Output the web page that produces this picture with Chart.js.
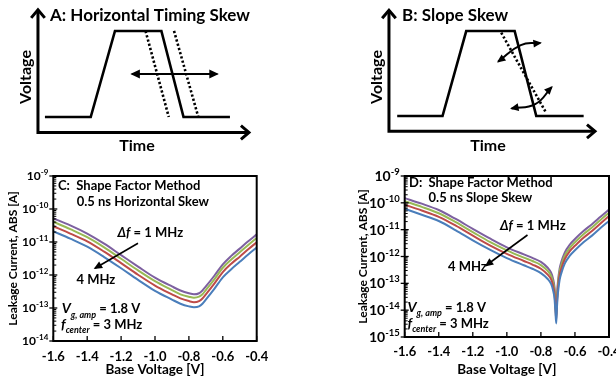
<!DOCTYPE html>
<html><head><meta charset="utf-8">
<script src="https://cdn.jsdelivr.net/npm/chart.js@4.4.1/dist/chart.umd.min.js"></script>
<style>
html,body{margin:0;padding:0;background:#fff;overflow:hidden;width:616px;height:382px;position:relative;}
canvas{position:absolute;display:block;}
</style></head><body>
<canvas id="cA" width="308" height="160" style="left:0;top:0;width:308px;height:160px"></canvas>
<canvas id="cB" width="308" height="160" style="left:308px;top:0;width:308px;height:160px"></canvas>
<canvas id="cC" width="308" height="222" style="left:0;top:160px;width:308px;height:222px"></canvas>
<canvas id="cD" width="330" height="222" style="left:308px;top:160px;width:330px;height:222px"></canvas>
<script>
// ---------- schematic panels A and B (time / voltage in arbitrary units) ----------
const axisTime = [0, 10];
const axisLevel = [-0.18, 1.245];
const pulseLevel = [0, 0, 1, 1, 0, 0];
const pulseTimeA = [0.33, 2.5, 3.65, 5.85, 6.9, 9.1];
const edgeLevel = [1, 0];
const earlyEdgeTimeA = [5.1, 6.2];
const lateEdgeTimeA = [6.45, 7.6];
const shiftArrowTimeA = [4.45, 8.5];
const shiftArrowLevelA = [0.5, 0.5];
const pulseTimeB = [0.4, 2.6, 3.75, 6.1, 7.15, 9.45];
const skewEdgeTimeB = [5.45, 7.6];
const skewEdgeLevelB = [0.98, 0.05];
const upperArcTimeB = [5.3, 6.4, 7.35];
const upperArcLevelB = [0.64, 0.835, 0.86];
const lowerArcTimeB = [5.95, 7.1, 7.9];
const lowerArcLevelB = [0.09, 0.14, 0.34];

// ---------- panel C: horizontal skew ----------
const baseVoltageC = [-1.6,-1.5,-1.4,-1.3,-1.2,-1.1,-1.0,-0.9,-0.85,-0.8,-0.77,-0.74,-0.72,-0.7,-0.65,-0.6,-0.55,-0.5,-0.45,-0.4];
const leakC_1MHz = [5.2e-11,3.2e-11,1.8e-11,8.9e-12,4.0e-12,1.8e-12,8.3e-13,4.5e-13,3.4e-13,2.8e-13,2.6e-13,2.8e-13,3.4e-13,4.5e-13,9.5e-13,2.1e-12,3.8e-12,6.3e-12,1.05e-11,1.7e-11];
const leakC_2MHz = [4.1e-11,2.45e-11,1.4e-11,6.9e-12,3.1e-12,1.38e-12,6.5e-13,3.5e-13,2.6e-13,2.2e-13,2.05e-13,2.2e-13,2.6e-13,3.5e-13,7.4e-13,1.66e-12,2.95e-12,4.9e-12,8.1e-12,1.32e-11];
const leakC_3MHz = [3.0e-11,1.8e-11,1.05e-11,5.1e-12,2.3e-12,1.02e-12,4.8e-13,2.6e-13,1.95e-13,1.62e-13,1.5e-13,1.62e-13,1.95e-13,2.6e-13,5.5e-13,1.23e-12,2.2e-12,3.6e-12,6.0e-12,9.8e-12];
const leakC_4MHz = [2.1e-11,1.26e-11,7.2e-12,3.5e-12,1.6e-12,7.1e-13,3.3e-13,1.8e-13,1.35e-13,1.12e-13,1.05e-13,1.12e-13,1.35e-13,1.8e-13,3.8e-13,8.5e-13,1.5e-12,2.5e-12,4.2e-12,6.8e-12];

// ---------- panel D: slope skew ----------
const baseVoltageD = [-1.6,-1.5,-1.4,-1.3,-1.2,-1.1,-1.0,-0.9,-0.85,-0.8,-0.76,-0.74,-0.73,-0.72,-0.715,-0.71,-0.705,-0.70,-0.69,-0.68,-0.66,-0.63,-0.6,-0.55,-0.5,-0.45,-0.4];
const leakD_1MHz = [1.5e-10,9.3e-11,5.4e-11,2.5e-11,1.07e-11,4.7e-12,2.2e-12,1.2e-12,8.9e-13,6.3e-13,3.8e-13,2.5e-13,1.6e-13,7.1e-14,2.5e-14,7.1e-15,4.0e-14,1.12e-13,3.5e-13,6.3e-13,1.4e-12,2.8e-12,4.5e-12,8.9e-12,1.6e-11,3.0e-11,5.6e-11];
const leakD_2MHz = [1.15e-10,7.1e-11,4.1e-11,1.9e-11,8.1e-12,3.5e-12,1.7e-12,9.1e-13,6.8e-13,4.8e-13,2.9e-13,1.9e-13,1.2e-13,5.4e-14,1.9e-14,5.6e-15,3.0e-14,8.5e-14,2.7e-13,4.8e-13,1.07e-12,2.1e-12,3.4e-12,6.8e-12,1.2e-11,2.3e-11,4.3e-11];
const leakD_3MHz = [8.5e-11,5.2e-11,3.0e-11,1.4e-11,6.0e-12,2.6e-12,1.26e-12,6.8e-13,5.0e-13,3.5e-13,2.1e-13,1.4e-13,8.9e-14,4.0e-14,1.4e-14,4.5e-15,2.2e-14,6.3e-14,2.0e-13,3.5e-13,7.9e-13,1.6e-12,2.5e-12,5.0e-12,8.9e-12,1.7e-11,3.2e-11];
const leakD_4MHz = [6.0e-11,3.6e-11,2.1e-11,9.5e-12,4.0e-12,1.8e-12,8.7e-13,4.7e-13,3.5e-13,2.4e-13,1.45e-13,9.5e-14,6.0e-14,2.7e-14,9.5e-15,3.2e-15,1.5e-14,4.3e-14,1.35e-13,2.4e-13,5.4e-13,1.07e-12,1.7e-12,3.4e-12,6.0e-12,1.15e-11,2.1e-11];

const xTickStep = 0.2;
const seriesColors = {'1 MHz':'#7D60A0','2 MHz':'#98B954','3 MHz':'#BE4B48','4 MHz':'#4A7EBB'};

const FONT = 'Lato';
Chart.defaults.font.family = FONT;
Chart.defaults.font.weight = 'bold';
Chart.defaults.color = '#000';

const pts = (xs, ys) => xs.map((x, i) => ({x, y: ys[i]}));

function drawHead(ctx, x, y, ang, style, color, size) {
  ctx.save();
  ctx.translate(x, y); ctx.rotate(ang);
  if (style === 'open') {
    ctx.beginPath();
    ctx.moveTo(-size, -size * 0.85); ctx.lineTo(0, 0); ctx.lineTo(-size, size * 0.85);
    ctx.lineWidth = 3; ctx.strokeStyle = color; ctx.lineJoin = 'miter'; ctx.lineCap = 'butt';
    ctx.stroke();
  } else {
    ctx.beginPath();
    ctx.moveTo(1.5, 0); ctx.lineTo(-size, -size * 0.55); ctx.lineTo(-size, size * 0.55); ctx.closePath();
    ctx.fillStyle = color; ctx.fill();
  }
  ctx.restore();
}

const arrowPlugin = {
  id: 'arrowHeads',
  afterDatasetsDraw(chart) {
    const ctx = chart.ctx;
    chart.data.datasets.forEach((ds, i) => {
      const els = chart.getDatasetMeta(i).data;
      const n = els.length;
      const size = ds.headSize || 8;
      if (ds.arrowEnd) {
        const p = els[n - 1];
        let fx = els[n - 2].x, fy = els[n - 2].y;
        if (p.cp1x !== undefined && (Math.abs(p.cp1x - p.x) + Math.abs(p.cp1y - p.y)) > 0.5) { fx = p.cp1x; fy = p.cp1y; }
        drawHead(ctx, p.x, p.y, Math.atan2(p.y - fy, p.x - fx), ds.arrowEnd, ds.borderColor, size);
      }
      if (ds.arrowStart) {
        const p = els[0];
        let fx = els[1].x, fy = els[1].y;
        if (p.cp2x !== undefined && (Math.abs(p.cp2x - p.x) + Math.abs(p.cp2y - p.y)) > 0.5) { fx = p.cp2x; fy = p.cp2y; }
        drawHead(ctx, p.x, p.y, Math.atan2(p.y - fy, p.x - fx), ds.arrowStart, ds.borderColor, size);
      }
    });
  }
};

function drawRich(ctx, item) {
  const base = item.size;
  ctx.save();
  ctx.fillStyle = '#000';
  ctx.textBaseline = 'alphabetic';
  ctx.textAlign = 'left';
  const parts = item.runs.map(r => {
    const s = r.size || (r.sub ? base * 0.68 : base);
    const f = (r.italic ? 'italic ' : '') + 'bold ' + s + 'px ' + FONT;
    ctx.font = f;
    return {r, s, f, w: ctx.measureText(r.t).width};
  });
  const total = parts.reduce((a, p) => a + p.w, 0);
  ctx.translate(item.x, item.y);
  if (item.rot) ctx.rotate(item.rot);
  let x = item.align === 'center' ? -total / 2 : (item.align === 'right' ? -total : 0);
  const baseY = base * 0.36;
  for (const p of parts) {
    ctx.font = p.f;
    ctx.fillText(p.r.t, x, baseY + (p.r.sub ? base * 0.32 : 0));
    x += p.w;
  }
  ctx.restore();
}

const textPlugin = {
  id: 'richText',
  afterDraw(chart, args, opts) {
    (opts.items || []).forEach(it => drawRich(chart.ctx, it));
    (opts.arrows || []).forEach(a => {
      const ctx = chart.ctx;
      ctx.save();
      ctx.strokeStyle = '#000'; ctx.lineWidth = 1.6;
      ctx.beginPath(); ctx.moveTo(a[0], a[1]); ctx.lineTo(a[2], a[3]); ctx.stroke();
      ctx.restore();
      drawHead(ctx, a[2], a[3], Math.atan2(a[3] - a[1], a[2] - a[0]), 'filled', '#000', 7);
    });
  }
};

function lineDs(data, extra) {
  return Object.assign({data, showLine: true, borderColor: '#000', borderWidth: 2.5, pointRadius: 0,
    fill: false, tension: 0, clip: false, borderJoinStyle: 'miter'}, extra || {});
}

function schematic(id, xr, yr, datasets, items) {
  return new Chart(document.getElementById(id), {
    type: 'scatter',
    data: {datasets},
    options: {
      responsive: false, animation: false, devicePixelRatio: 1, events: [],
      layout: {padding: 0},
      plugins: {legend: {display: false}, tooltip: {enabled: false}, richText: {items}},
      scales: {
        x: {type: 'linear', display: false, min: xr[0], max: xr[1]},
        y: {type: 'linear', display: false, min: yr[0], max: yr[1]}
      }
    },
    plugins: [arrowPlugin, textPlugin]
  });
}

const axisPts = [{x: axisTime[0], y: axisLevel[1]}, {x: axisTime[0], y: axisLevel[0]}, {x: axisTime[1], y: axisLevel[0]}];

schematic('cA', [-1.8, 12.8], [-0.5, 1.36], [
  lineDs(axisPts, {borderWidth: 3, arrowStart: 'open', arrowEnd: 'open', headSize: 8}),
  lineDs(pts(pulseTimeA, pulseLevel), {borderWidth: 2.6}),
  lineDs(pts(earlyEdgeTimeA, edgeLevel), {borderWidth: 2.6, borderDash: [2.2, 2.2]}),
  lineDs(pts(lateEdgeTimeA, edgeLevel), {borderWidth: 2.6, borderDash: [2.2, 2.2]}),
  lineDs(pts(shiftArrowTimeA, shiftArrowLevelA), {borderWidth: 2, arrowStart: 'filled', arrowEnd: 'filled', headSize: 8})
], [
  {x: 50, y: 15, size: 17, runs: [{t: 'A: Horizontal Timing Skew'}]},
  {x: 25, y: 77, size: 16, rot: -Math.PI / 2, align: 'center', runs: [{t: 'Voltage'}]},
  {x: 137, y: 145, size: 16, align: 'center', runs: [{t: 'Time'}]}
]);

schematic('cB', [-3.93, 11.02], [-0.517, 1.365], [
  lineDs(axisPts, {borderWidth: 3, arrowStart: 'open', arrowEnd: 'open', headSize: 8}),
  lineDs(pts(pulseTimeB, pulseLevel), {borderWidth: 2.6}),
  lineDs(pts(skewEdgeTimeB, skewEdgeLevelB), {borderWidth: 2.6, borderDash: [2.2, 2.2]}),
  lineDs(pts(upperArcTimeB, upperArcLevelB), {borderWidth: 2, tension: 0.45, arrowStart: 'filled', arrowEnd: 'filled', headSize: 7}),
  lineDs(pts(lowerArcTimeB, lowerArcLevelB), {borderWidth: 2, tension: 0.45, arrowStart: 'filled', arrowEnd: 'filled', headSize: 7})
], [
  {x: 94, y: 15, size: 17, runs: [{t: 'B: Slope Skew'}]},
  {x: 68, y: 77, size: 16, rot: -Math.PI / 2, align: 'center', runs: [{t: 'Voltage'}]},
  {x: 180, y: 145, size: 16, align: 'center', runs: [{t: 'Time'}]}
]);

const framePlugin = {
  id: 'frame',
  afterDraw(chart, args, o) {
    const {ctx, chartArea: a, scales: {x, y}} = chart;
    ctx.save();
    ctx.strokeStyle = '#000';
    ctx.lineWidth = 2;
    ctx.strokeRect(a.left, a.top, a.right - a.left, a.bottom - a.top);
    ctx.lineWidth = 1.3;
    x.ticks.forEach(t => {
      const px = x.getPixelForValue(t.value);
      ctx.beginPath(); ctx.moveTo(px, a.bottom); ctx.lineTo(px, a.bottom - 5); ctx.stroke();
    });
    const lo = Math.round(Math.log10(y.min)), hi = Math.round(Math.log10(y.max));
    for (let e = lo; e <= hi; e++) {
      const py = y.getPixelForValue(Math.pow(10, e));
      ctx.lineWidth = 1.3;
      ctx.beginPath(); ctx.moveTo(a.left - 4, py); ctx.lineTo(a.left + 4, py); ctx.stroke();
      if (e < hi) {
        ctx.lineWidth = 1;
        for (let k = 2; k <= 9; k++) {
          const pm = y.getPixelForValue(k * Math.pow(10, e));
          ctx.beginPath(); ctx.moveTo(a.left, pm); ctx.lineTo(a.left + 3, pm); ctx.stroke();
        }
      }
      // tick label 10^e
      ctx.fillStyle = '#000';
      ctx.textBaseline = 'alphabetic';
      ctx.textAlign = 'right';
      const rx = a.left - o.labelGap;
      ctx.font = 'bold ' + o.expSize + 'px ' + FONT;
      const ex = String(e);
      const ew = ctx.measureText(ex).width;
      const bl = py + o.baseSize * 0.36;
      ctx.fillText(ex, rx, bl - o.baseSize * 0.42);
      ctx.font = 'bold ' + o.baseSize + 'px ' + FONT;
      ctx.fillText('10', rx - ew, bl);
    }
    ctx.restore();
  }
};

function leakChart(id, volts, series, yr, g, items, arrows) {
  const names = ['4 MHz', '3 MHz', '2 MHz', '1 MHz'];
  const datasets = names.map((n, i) => ({
    label: 'Δf = ' + n, data: pts(volts, series[i]), showLine: true, borderColor: seriesColors[n],
    borderWidth: 2, pointRadius: 0, fill: false, cubicInterpolationMode: 'monotone', clip: false
  }));
  return new Chart(document.getElementById(id), {
    type: 'scatter',
    data: {datasets},
    options: {
      responsive: false, animation: false, devicePixelRatio: 1, events: [],
      layout: {padding: {left: g.padLeft, right: g.padRight, top: g.padTop, bottom: 0}},
      plugins: {legend: {display: false}, tooltip: {enabled: false},
        frame: {labelGap: 5, baseSize: g.labSize, expSize: g.expSize},
        richText: {items, arrows}},
      scales: {
        x: {type: 'linear', min: -1.6, max: -0.4,
          afterFit: s => { s.height = g.xHeight; },
          grid: {display: false, drawTicks: false}, border: {display: false},
          ticks: {stepSize: xTickStep, padding: g.xPad, maxRotation: 0, autoSkip: false,
            font: {size: 13, weight: 'bold'}, color: '#000',
            callback: v => Number(v).toFixed(1)},
          title: {display: true, text: 'Base Voltage [V]', font: {size: 13.5, weight: 'bold'}, color: '#000', padding: {top: 0, bottom: g.xTitlePad}}
        },
        y: {type: 'logarithmic', min: yr[0], max: yr[1],
          afterFit: s => { s.width = g.yWidth; },
          grid: {display: false, drawTicks: false}, border: {display: false},
          ticks: {display: false},
          title: {display: true, text: 'Leakage Current, ABS [A]', font: {size: 12, weight: 'bold'}, color: '#000', padding: {top: g.yTitlePad, bottom: 0}}
        }
      }
    },
    plugins: [framePlugin, textPlugin]
  });
}

const vRuns = [{t: 'V', italic: true, size: 14}, {t: 'g, amp', italic: true, sub: true, size: 9}, {t: ' = 1.8 V'}];
const fRuns = [{t: 'f', italic: true, size: 14}, {t: 'center', italic: true, sub: true, size: 9}, {t: ' = 3 MHz'}];
const dfRuns = [{t: 'Δf', italic: true}, {t: ' = 1 MHz'}];

leakChart('cC', baseVoltageC, [leakC_4MHz, leakC_3MHz, leakC_2MHz, leakC_1MHz], [1e-14, 1e-9],
  {padLeft: 0, padRight: 51.3, padTop: 16, yWidth: 53.3, xHeight: 41, xPad: 8, xTitlePad: 4, yTitlePad: 6, labSize: 12, expSize: 8},
  [
    {x: 58, y: 25, size: 13, runs: [{t: 'C:  Shape Factor Method'}]},
    {x: 76.7, y: 41.7, size: 13, runs: [{t: '0.5 ns Horizontal Skew'}]},
    {x: 117.5, y: 72, size: 13, runs: dfRuns},
    {x: 76.5, y: 119, size: 13, runs: [{t: '4 MHz'}]},
    {x: 61.7, y: 148.7, size: 13, runs: vRuns},
    {x: 61, y: 164.2, size: 13, runs: fRuns}
  ],
  [[138, 83.3, 95, 108.3]]);

leakChart('cD', baseVoltageD, [leakD_4MHz, leakD_3MHz, leakD_2MHz, leakD_1MHz], [1e-15, 1e-9],
  {padLeft: 43.4, padRight: 29, padTop: 16, yWidth: 53.3, xHeight: 45, xPad: 7, xTitlePad: 4, yTitlePad: 4.4, labSize: 14, expSize: 9.5},
  [
    {x: 101, y: 22.2, size: 13, runs: [{t: 'D:  Shape Factor Method'}]},
    {x: 120.5, y: 37.2, size: 13, runs: [{t: '0.5 ns Slope Skew'}]},
    {x: 192, y: 65, size: 13, runs: dfRuns},
    {x: 140, y: 106.7, size: 13, runs: [{t: '4 MHz'}]},
    {x: 99.5, y: 147.5, size: 13, runs: vRuns},
    {x: 99.5, y: 163.6, size: 13, runs: fRuns}
  ],
  [[219.5, 75, 178, 105.5]]);
</script>
</body></html>
